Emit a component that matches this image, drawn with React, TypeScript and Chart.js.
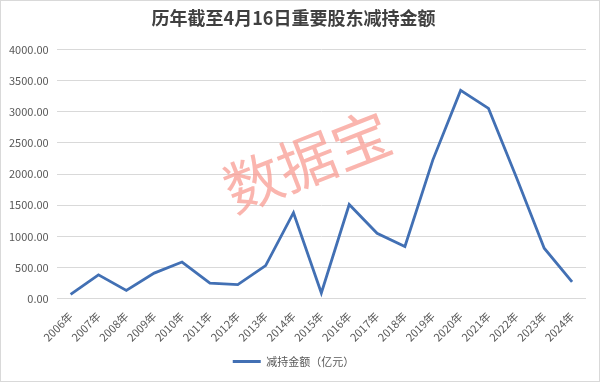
import React, { useEffect, useRef } from "react";
import { Chart, registerables } from "chart.js";

Chart.register(...registerables);

const TITLE = "历年截至4月16日重要股东减持金额";
const SERIES_LABEL = "减持金额（亿元）";
const WATERMARK = "数据宝";
const YEARS = [
  "2006年", "2007年", "2008年", "2009年", "2010年", "2011年", "2012年", "2013年", "2014年", "2015年",
  "2016年", "2017年", "2018年", "2019年", "2020年", "2021年", "2022年", "2023年", "2024年",
];
const AMOUNTS = [
  68, 382, 132, 410, 588, 250, 225, 530, 1380, 90,
  1512, 1050, 838, 2225, 3345, 3055, 1950, 810, 270,
];
const Y_MIN = 0;
const Y_MAX = 4000;
const Y_STEP = 500;

const watermarkPlugin = {
  id: "watermark",
  beforeDatasetsDraw(chart: any) {
    const ctx = chart.ctx;
    ctx.save();
    ctx.translate(306, 160);
    ctx.rotate((-21.5 * Math.PI) / 180);
    ctx.font = '58px "Noto Sans CJK SC"';
    ctx.fillStyle = "rgba(248, 150, 140, 0.7)";
    ctx.textAlign = "center";
    ctx.textBaseline = "middle";
    ctx.fillText(WATERMARK, 0, 0);
    ctx.restore();
  },
};

export default function App() {
  const ref = useRef<HTMLCanvasElement | null>(null);
  useEffect(() => {
    document.body.style.margin = "0";
    const chart = new Chart(ref.current as HTMLCanvasElement, {
      type: "line",
      data: {
        labels: YEARS,
        datasets: [
          {
            label: SERIES_LABEL,
            data: AMOUNTS,
            borderColor: "#4270b4",
            backgroundColor: "#4270b4",
            borderWidth: 2.8,
            pointRadius: 0,
            tension: 0,
          },
        ],
      },
      options: {
        animation: false,
        responsive: false,
        maintainAspectRatio: false,
        layout: { padding: { left: 0, right: 13, top: 0, bottom: 4 } },
        plugins: {
          title: {
            display: true,
            text: TITLE,
            color: "#404040",
            font: { family: '"Noto Sans CJK SC"', size: 18, weight: "bold" },
            padding: { top: 6, bottom: 21 },
          },
          legend: {
            position: "bottom",
            labels: {
              color: "#595959",
              font: { family: '"Noto Sans CJK SC"', size: 11 },
              boxWidth: 28,
              boxHeight: 0,
              padding: 9,
            },
          },
          tooltip: { enabled: false },
        },
        scales: {
          x: {
            offset: true,
            grid: { display: false },
            border: { display: false },
            ticks: {
              color: "#595959",
              font: { family: '"Noto Sans CJK SC"', size: 11 },
              maxRotation: 45,
              minRotation: 45,
              autoSkip: false,
              padding: 3,
            },
          },
          y: {
            min: Y_MIN,
            max: Y_MAX,
            grid: { color: "#d9d9d9", drawTicks: false },
            border: { display: false },
            ticks: {
              stepSize: Y_STEP,
              color: "#595959",
              font: { family: '"Noto Sans CJK SC"', size: 11 },
              padding: 8,
              callback: (v: any) => Number(v).toFixed(2),
            },
          },
        },
      },
      plugins: [watermarkPlugin],
    });
    return () => chart.destroy();
  }, []);
  return (
    <div
      style={{
        position: "fixed",
        left: 0,
        top: 0,
        width: 600,
        height: 382,
        boxSizing: "border-box",
        border: "1px solid #d9d9d9",
        background: "#fff",
      }}
    >
      <canvas ref={ref} width={598} height={380} />
    </div>
  );
}
